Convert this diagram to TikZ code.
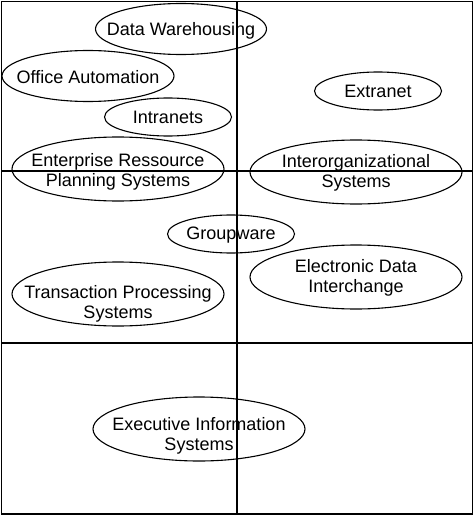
\documentclass[tikz,border=0pt]{standalone}
\usepackage{fontspec}
\setmainfont{Liberation Sans}
\usetikzlibrary{shapes.geometric}

% text that does not widen its ellipse (optional argument: drop in pt)
\newcommand{\oneline}[2][0]{\raisebox{-#1pt}[\height][\depth]{\makebox[0pt]{#2}}}
\newcommand{\twolines}[3][0]{\raisebox{-#1pt}[\height][\depth]{\makebox[0pt]{\begin{tabular}{@{}c@{}}#2\\#3\end{tabular}}}}

\begin{document}
\begin{tikzpicture}[
    x=1pt, y=-1pt,
    every node/.style={draw, ellipse, line width=1.1pt, inner sep=0pt, font=\fontsize{18}{20}\selectfont},
    small/.style={minimum width=127pt, minimum height=38pt},
    wide/.style={minimum width=212pt, minimum height=64pt},
    grid/.style={line width=1.5pt}
]
\useasboundingbox (0,0) rectangle (474,516);

% quadrants
\draw[grid] (1.5,1.5) rectangle (472.5,514);
\draw[grid] (237,1.5) -- (237,514);
\draw[grid] (1.5,171) -- (472.5,171);
\draw[grid] (1.5,343) -- (472.5,343);

% systems
\node[minimum width=171pt, minimum height=51pt] (dw) at (181,29) {\oneline[2]{Data Warehousing}};
\node[minimum width=172pt, minimum height=51pt] (oa) at (88,76) {\oneline[1]{Office Automation}};
\node[small] (intra) at (168,117) {\oneline{Intranets}};
\node[small] (extra) at (378,91) {\oneline{Extranet}};
\node[wide] (erp) at (118,169) {\twolines[3.5]{Enterprise Ressource}{Planning Systems}};
\node[wide] (ios) at (356,172) {\twolines[1]{Interorganizational}{Systems}};
\node[small] (gw) at (231,234) {\oneline[1]{Groupware}};
\node[wide] (edi) at (356,277) {\twolines[1]{Electronic Data}{Interchange}};
\node[wide] (tps) at (118,294) {\twolines[10]{Transaction Processing}{Systems}};
\node[wide] (eis) at (199,429) {\twolines[7.5]{Executive Information}{Systems}};

\end{tikzpicture}
\end{document}
